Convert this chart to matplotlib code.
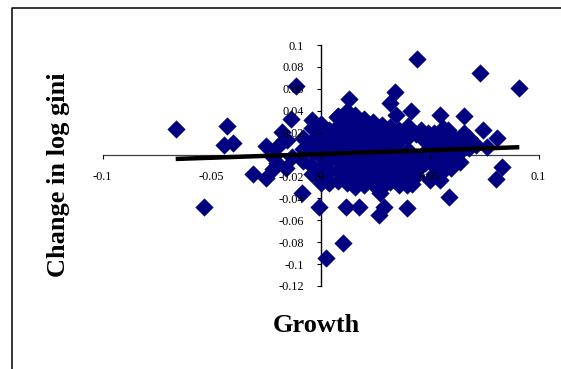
import matplotlib
matplotlib.use("Agg")
import matplotlib.pyplot as plt
from matplotlib.lines import Line2D
import numpy as np

# ---- data ----
growth_outer = [-0.0665, -0.0535, -0.0430, -0.0445, -0.0400, -0.0312, -0.0252, -0.0250,
                -0.0206, -0.0176, -0.0153, -0.0138, -0.0115, -0.0084, -0.0038, -0.0015,
                -0.0008, 0.0026, 0.0105, 0.0115, 0.0176, 0.0132, 0.0077, 0.0272,
                0.0290, 0.0268, 0.0398, 0.0398, 0.0420, 0.0441, 0.0341, 0.0318,
                0.0345, 0.0413, 0.0547, 0.0660, 0.0731, 0.0912, 0.0746, 0.0810,
                0.0764, 0.0715, 0.0833, 0.0807, 0.0589, 0.0550, 0.0640, 0.0466,
                0.0459, 0.0657, 0.0583, 0.0493, 0.0501, -0.0200, -0.0160, -0.0130,
                -0.0220, 0.0000, -0.0220, -0.0170]
dgini_outer = [0.0230, -0.0477, 0.0260, 0.0085, 0.0102, -0.0178, -0.0215, 0.0080,
               0.0057, 0.0208, 0.0132, 0.0324, 0.0630, -0.0355, 0.0315, 0.0224,
               -0.0477, -0.0948, -0.0810, -0.0477, -0.0477, 0.0507, 0.0345, -0.0355,
               -0.0477, -0.0550, -0.0490, -0.0280, -0.0270, 0.0870, 0.0574, 0.0470,
               0.0360, 0.0400, 0.0360, 0.0350, 0.0747, 0.0610, 0.0224, 0.0154,
               0.0071, 0.0087, -0.0110, -0.0227, -0.0385, -0.0230, -0.0066, -0.0096,
               0.0224, 0.0193, 0.0224, 0.0193, -0.0233, -0.0080, -0.0120, -0.0020,
               -0.0130, -0.0260, -0.0020, 0.0130]

# dense central cloud (column x value -> y values)
cloud_x = [-0.008, -0.004, 0.000, 0.004, 0.008, 0.012, 0.016, 0.020, 0.024, 0.028,
           0.032, 0.036, 0.040, 0.044, 0.048, 0.052, 0.056, 0.060, 0.064, 0.068]
cloud_y = [
    [0.015, 0.005, -0.006],
    [0.024, 0.012, 0.002, -0.010, -0.018],
    [0.028, 0.018, 0.008, -0.002, -0.012, -0.022],
    [0.022, 0.012, 0.003, -0.006, -0.016, -0.026],
    [0.035, 0.026, 0.016, 0.006, -0.004, -0.014, -0.024],
    [0.040, 0.030, 0.020, 0.010, 0.000, -0.010, -0.020, -0.026],
    [0.036, 0.026, 0.016, 0.006, -0.004, -0.014, -0.024, -0.030],
    [0.032, 0.022, 0.012, 0.002, -0.008, -0.018, -0.028],
    [0.030, 0.020, 0.010, 0.000, -0.010, -0.020, -0.027],
    [0.027, 0.017, 0.007, -0.003, -0.013, -0.023, -0.030],
    [0.025, 0.015, 0.005, -0.005, -0.015, -0.025],
    [0.022, 0.012, 0.002, -0.008, -0.018, -0.028],
    [0.026, 0.016, 0.004, -0.004, -0.014, -0.022],
    [0.019, -0.002, -0.012, -0.020],
    [0.012, 0.002, -0.008],
    [0.020, 0.010, 0.000, -0.010, -0.018],
    [0.024, 0.014, 0.004, -0.006, -0.015],
    [0.018, 0.008, -0.002, -0.012],
    [0.012, 0.002, 0.010],
    [0.015, 0.006],
]

trend_slope = 0.068
trend_intercept = 0.0005

x_ticks = [-0.1, -0.05, 0, 0.05, 0.1]
x_tick_labels = ["-0.1", "-0.05", "0", "0.05", "0.1"]
y_ticks = [-0.12, -0.1, -0.08, -0.06, -0.04, -0.02, 0, 0.02, 0.04, 0.06, 0.08, 0.1]
y_tick_labels = ["-0.12", "-0.1", "-0.08", "-0.06", "-0.04", "-0.02", "0",
                 "0.02", "0.04", "0.06", "0.08", "0.1"]

# ---- assemble ----
gx = list(growth_outer)
gy = list(dgini_outer)
for cx, ys in zip(cloud_x, cloud_y):
    for cy in ys:
        gx.append(cx)
        gy.append(cy)
gx = np.array(gx)
gy = np.array(gy)

plt.rcParams['font.family'] = ['Liberation Serif', 'DejaVu Serif']

fig = plt.figure(figsize=(5.61, 3.69), dpi=100)
ax = fig.add_axes([102.7 / 561, 1 - 286 / 369, (538.5 - 102.7) / 561, (286 - 45) / 369])

ax.scatter(gx, gy, marker='D', s=80, color='#000080', edgecolors='#000080',
           linewidths=0.3, zorder=1)

tx = np.array([gx.min(), gx.max()])
ax.plot(tx, trend_slope * tx + trend_intercept, color='black', lw=3.2,
        solid_capstyle='butt', zorder=3)

ax.set_xlim(-0.1, 0.1)
ax.set_ylim(-0.12, 0.1)
ax.set_facecolor('none')

for s in ['top', 'right']:
    ax.spines[s].set_visible(False)
ax.spines['left'].set_position(('data', 0))
ax.spines['bottom'].set_position(('data', 0))
ax.spines['left'].set_zorder(0.5)
ax.spines['bottom'].set_zorder(0.5)
ax.spines['left'].set_linewidth(1.0)
ax.spines['bottom'].set_linewidth(0.9)
ax.spines['bottom'].set_color('#404040')

ax.set_xticks(x_ticks)
ax.set_xticklabels(x_tick_labels)
ax.set_yticks(y_ticks)
ax.set_yticklabels(y_tick_labels)
ax.tick_params(axis='x', direction='out', length=3, width=0.8, pad=9, labelsize=8.8)
ax.tick_params(axis='y', direction='out', length=3, width=0.8, pad=9, labelsize=8.8)

fig.text(59 / 561, 1 - 175 / 369, "Change in log gini", rotation=90,
         ha='center', va='center', fontsize=19, fontweight='bold')
fig.text(316 / 561, 1 - 326 / 369, "Growth", ha='center', va='center',
         fontsize=19, fontweight='bold')

# outer chart frame (top and left edges visible)
fig.add_artist(Line2D([11.5 / 561, 11.5 / 561, 1.0], [0.0, 1 - 7.5 / 369, 1 - 7.5 / 369],
                      transform=fig.transFigure, color='black', lw=1.1))

fig.savefig("out.png", dpi=100)
